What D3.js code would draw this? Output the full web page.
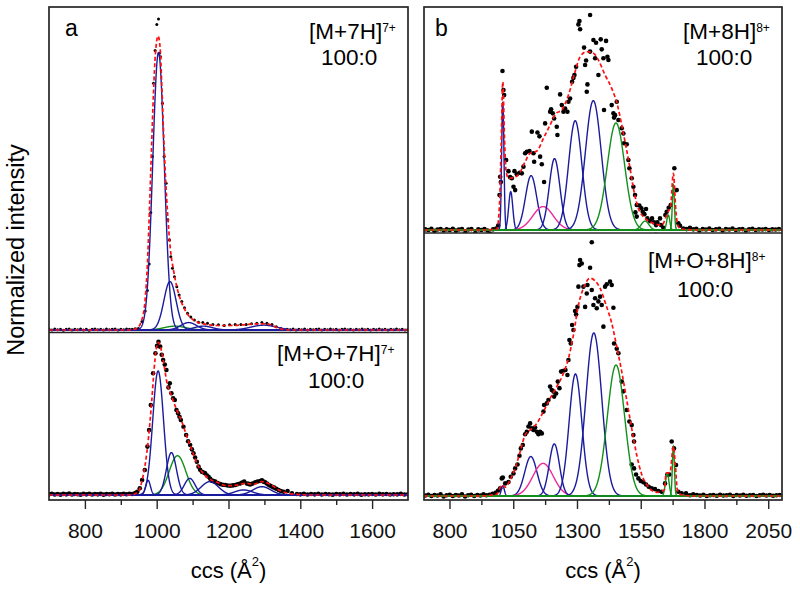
<!DOCTYPE html>
<html>
<head>
<meta charset="utf-8">
<script src="https://d3js.org/d3.v7.min.js"></script>
<style>
  body { margin: 0; background: #fff; }
  svg { display: block; font-family: "Liberation Sans", Arial, sans-serif; }
</style>
</head>
<body>
<svg id="drawing_region"></svg>
<script>
// ---- axis ticks ----
const aTicks = [800, 1000, 1200, 1400, 1600];
const aMinorTicks = [900, 1100, 1300, 1500];
const bTicks = [800, 1050, 1300, 1550, 1800, 2050];
const bMinorTicks = [925, 1175, 1425, 1675, 1925];

// ---- panel a, [M+7H]7+ ----
const aTopDots = [[700,.002],[708,0],[716,.003],[724,.001],[732,.002],[740,-.001],[748,.002],[756,.003],[764,0],[772,.002],[780,.001],[788,.003],[796,0],[804,.002],[812,-.001],[820,.002],[828,.003],[836,.001],[844,.002],[852,0],[860,.003],[868,.001],[876,.002],[884,.003],[892,0],[900,.002],[908,.001],[916,.003],[924,.002],[932,.002],[940,.004],
  [949,.005],[959,.026],[968,.059],[974,.122],[979,.204],[983.5,.364],[988,.537],[991,.764],[995.6,.865],[1000.3,.946],[1005,.963],[1007.7,.857],[1010.5,.846],[1016,.702],[1020.7,.537],[1026.3,.454],[1031,.341],[1035.6,.279],[1039.3,.227],[1044,.191],[1049.5,.165],[1056,.134],[1062.5,.108],[1070,.088],[1077.4,.069],[1085.8,.052],[1095,.040],[1105,.031],[1116.5,.024],[1128.5,.023],[1141.5,.021],[1156.4,.017],[1172,.016],[1188,.014],[1203,.016],[1218.7,.017],[1234.5,.017],[1249.3,.017],[1264,.019],[1279,.021],[1293,.023],[1307,.021],[1321,.017],[1333,.010],[1346,.005],[1363,.002],
  [1372,.001],[1380,.003],[1388,0],[1396,.002],[1404,.001],[1412,.003],[1420,0],[1428,.002],[1436,.001],[1444,.002],[1452,.003],[1460,0],[1468,.002],[1476,.001],[1484,.003],[1492,.001],[1500,.002],[1508,0],[1516,.002],[1524,.003],[1532,.001],[1540,.002],[1548,0],[1556,.002],[1564,.001],[1572,.003],[1580,.001],[1588,.002],[1596,0],[1604,.002],[1612,.001],[1620,.003],[1628,.001],[1636,.002],[1644,0],[1652,.002],[1660,.001],[1668,.003],[1676,.001],[1684,.002],[1692,0],[1700,.002]];
const aTopFit = [[700,0],[926,0],[944.5,.005],[958.4,.031],[967.7,.093],[974.2,.206],[979.8,.372],[985.4,.557],[991,.733],[996.5,.857],[1004,.91],[1009.6,.873],[1014,.764],[1018.9,.619],[1024.4,.475],[1031,.351],[1037.4,.258],[1046.7,.186],[1056,.134],[1070,.083],[1084,.052],[1102.5,.031],[1130,.019],[1167.6,.014],[1204.8,.014],[1242,.016],[1279,.019],[1307,.019],[1326,.012],[1344,.004],[1372,0],[1700,0]];
const aTopCenters = [1051, 1005, 1037, 1089, 1130, 1298];
const aTopHeights = [.012, .859, .15, .023, .012, .015];
const aTopWidths  = [30, 16, 17, 22, 25, 35];
const aTopKinds   = ['green', 'blue', 'blue', 'blue', 'blue', 'blue'];

// ---- panel a, [M+O+7H]7+ ----
const aBotDots = [[700,.004],[708,.008],[716,.003],[724,.006],[732,.002],[740,.007],[748,.004],[756,.009],[764,.003],[772,.006],[780,.005],[788,.002],[796,.007],[804,.004],[812,.008],[820,.003],[828,.006],[836,.004],[844,.007],[852,.002],[860,.006],[868,.005],[876,.008],[884,.003],[892,.006],[900,.004],[908,.007],[916,.005],[924,.008],[932,.006],[940,.012],[946,.02],
  [952.8,.041],[959.4,.092],[966.8,.153],[974.2,.297],[978.9,.399],[983.5,.552],[990,.747],[996.5,.87],[1001,.915],[1005,.94],[1009.6,.91],[1014,.86],[1018,.828],[1022.5,.80],[1027,.767],[1032.8,.66],[1036.5,.685],[1041,.624],[1045.8,.593],[1050.4,.583],[1055,.521],[1059.7,.501],[1063.5,.48],[1067.2,.46],[1074.6,.419],[1082,.368],[1087.5,.33],[1093.2,.307],[1098,.28],[1102.5,.256],[1107,.23],[1111.8,.204],[1116.5,.174],[1121,.155],[1125.8,.143],[1130.5,.138],[1135,.133],[1140,.12],[1144.3,.112],[1149,.10],[1153.6,.088],[1158,.085],[1163,.082],[1170,.074],[1176.9,.067],[1184,.063],[1190.8,.061],[1198,.058],[1204.8,.057],[1212,.059],[1218.7,.061],[1225,.066],[1232.6,.071],[1238,.077],[1243.8,.082],[1251.2,.071],[1256,.068],[1260.5,.065],[1267,.07],[1274.5,.078],[1281,.083],[1288.4,.086],[1293,.09],[1297.7,.082],[1302,.078],[1307,.071],[1311.5,.063],[1316.3,.057],[1322,.05],[1327.4,.045],[1333,.038],[1339.5,.031],[1346,.025],[1353.5,.02],[1364.6,.025],[1376.7,.01],[1390.7,.006],
  [1400,.004],[1410,.007],[1420,.003],[1430,.006],[1440,.004],[1450,.008],[1460,.003],[1470,.006],[1480,.005],[1490,.002],[1500,.006],[1510,.004],[1520,.007],[1530,.003],[1540,.006],[1550,.004],[1560,.007],[1570,.002],[1580,.005],[1590,.004],[1600,.006],[1610,.003],[1620,.007],[1630,.004],[1640,.006],[1650,.003],[1660,.005],[1670,.004],[1680,.007],[1690,.003],[1700,.005]];
const aBotFit = [[700,0],[926,0],[949,.02],[958.5,.082],[967.7,.184],[977,.348],[986,.572],[993,.777],[998.4,.89],[1005,.937],[1011.4,.90],[1019,.818],[1028,.695],[1042,.603],[1056,.521],[1070,.45],[1084,.358],[1098,.276],[1112,.194],[1126,.143],[1144,.102],[1168,.078],[1195.5,.057],[1223,.06],[1247,.072],[1270,.066],[1293,.082],[1316,.066],[1340,.031],[1363,.012],[1391,.004],[1428,0],[1700,0]];
const aBotCenters = [1058, 976, 1004, 1041, 1092, 1148, 1242, 1293];
const aBotHeights = [.241, .09, .761, .26, .102, .082, .031, .051];
const aBotWidths  = [23, 6.5, 15, 14, 15, 24, 25, 25];
const aBotKinds   = ['green', 'blue', 'blue', 'blue', 'blue', 'blue', 'blue', 'blue'];

// ---- panel b, [M+8H]8+ ----
const bTopDots = [[705,.003],[717,0],[729,.005],[741,-.004],[753,.002],[765,.004],[777,-.002],[789,.003],[801,0],[813,.005],[825,-.003],[837,.002],[849,.004],[862,-.012],[874,.002],[886,.004],[901,-.014],[913,.003],[925,0],[937,.004],[949,-.002],[959,-.016],[971,.003],[983,.006],[991,.02],
  [996,.157],[998.7,.239],[1001.3,.215],[1007.8,.713],[1011.7,.628],[1014.4,.605],[1022.2,.314],[1031.3,.264],[1037.9,.237],[1044.4,.232],[1051,.194],[1054.8,.264],[1057.5,.179],[1064,.25],[1074.4,.257],[1083.6,.254],[1090.1,.284],[1096.6,.344],[1103.2,.351],[1113.6,.354],[1122.8,.441],[1129.3,.344],[1132,.306],[1145,.437],[1152.8,.42],[1155.4,.329],[1162,.295],[1171,.215],[1175,.478],[1181.5,.638],[1194.6,.53],[1198.5,.541],[1205,.523],[1210.3,.5],[1220.7,.463],[1223.3,.426],[1233.8,.608],[1240.3,.56],[1246.9,.53],[1253.4,.545],[1262.5,.53],[1266.5,.575],[1273,.59],[1280.8,.665],[1286,.682],[1290,.695],[1296.5,.732],[1305.6,.922],[1309.6,.937],[1312.2,.90],[1327.8,.818],[1331.8,.74],[1335.7,.76],[1338.3,.62],[1341,.653],[1351.4,.964],[1351.4,.80],[1364.4,.852],[1371,.77],[1374.8,.84],[1384,.695],[1393,.855],[1397,.81],[1403.6,.77],[1406,.538],[1414,.848],[1419.3,.777],[1423.2,.762],[1436.3,.56],[1442.8,.523],[1445.4,.504],[1449.3,.515],[1455.8,.575],[1462.4,.493],[1475.4,.456],[1482,.433],[1484.6,.389],[1495,.384],[1501.6,.314],[1505.5,.277],[1514.6,.232],[1521.2,.194],[1527.7,.157],[1529,.079],[1534.2,.112],[1534.2,.06],[1544.7,.11],[1552.5,.097],[1557.7,.082],[1564.3,.071],[1570.8,.094],[1576,.052],[1586.5,.04],[1594.3,.052],[1602,.034],[1608.7,-.022],[1610,.022],[1615.2,.034],[1625.6,.052],[1629.6,.022],[1638.7,.01],[1646.6,.067],[1651.8,.082],[1659.6,.1],[1667.6,.112],[1681.8,.277],[1691,.179],[1697.5,.03],[1704,.019],[1717,.007],[1730,.004],
  [1743,.01],[1756,.003],[1768,.005],[1780,-.002],[1793,.004],[1806,.002],[1819,.006],[1832,0],[1845,.003],[1858,.005],[1871,-.002],[1884,.004],[1897,.002],[1910,.006],[1923,0],[1936,.003],[1949,.004],[1962,-.002],[1975,.003],[1988,.005],[2001,0],[2014,.003],[2027,.002],[2040,.004],[2053,0],[2066,.003],[2079,.002],[2092,.004]];
const bTopFit = [[700,0],[920,0],[985.6,.004],[996,.112],[1002.6,.381],[1009.1,.665],[1015.7,.411],[1022.2,.262],[1031.3,.232],[1051,.235],[1074.4,.254],[1096.6,.306],[1116,.344],[1142.4,.354],[1168.5,.411],[1194.6,.471],[1218,.523],[1240.3,.538],[1266.5,.605],[1292.6,.71],[1312.2,.777],[1338.3,.80],[1364.4,.793],[1384,.762],[1410,.695],[1436.3,.635],[1458.5,.561],[1475.4,.471],[1491,.381],[1508,.277],[1523.8,.172],[1540.8,.097],[1567,.052],[1599.5,.03],[1632,.022],[1654.4,.075],[1667.5,.112],[1678,.254],[1688,.082],[1697.5,.015],[1717,.003],[1782.5,0],[2104,0]];
const bTopCenters = [1009, 1040, 1120, 1167, 1212, 1293, 1364, 1453, 1567, 1658, 1678];
const bTopHeights = [.575, .172, .244, .105, .32, .49, .58, .48, .04, .067, .202];
const bTopWidths  = [4.5, 8, 22, 40, 21, 26, 31, 34, 15, 6, 4];
const bTopKinds   = ['blue', 'blue', 'blue', 'magenta', 'blue', 'blue', 'blue', 'green', 'green', 'green', 'green'];

// ---- panel b, [M+O+8H]8+ ----
const bBotDots = [[705,.002],[717,.005],[729,0],[741,.004],[753,.002],[765,.006],[777,-.002],[789,.003],[801,.005],[813,0],[825,.004],[837,.002],[849,.006],[861,-.002],[873,.003],[885,.005],[897,0],[909,.004],[921,.002],[933,.006],[945,.003],[957,.005],[969,.008],[981,.012],[990,.02],
  [998.7,.029],[1005,.067],[1009.1,.07],[1018.3,.048],[1031.3,.053],[1040.5,.073],[1051,.086],[1057.5,.105],[1066.6,.12],[1074.4,.153],[1079.7,.181],[1087.5,.194],[1096.6,.235],[1103.2,.244],[1109.7,.264],[1116.2,.276],[1122.8,.257],[1129.3,.251],[1135.8,.26],[1142.4,.244],[1148.9,.235],[1155.4,.244],[1162,.238],[1168.5,.321],[1171.1,.346],[1181.5,.352],[1188,.365],[1194.6,.416],[1201.1,.403],[1207.7,.397],[1210.3,.378],[1218.1,.39],[1224.7,.435],[1231.2,.41],[1237.7,.473],[1244.2,.475],[1254.7,.479],[1262.5,.46],[1266.5,.517],[1270.4,.593],[1275.6,.58],[1280.8,.65],[1286,.631],[1292.6,.703],[1296.5,.69],[1301.7,.719],[1305.6,.796],[1309.6,.878],[1312.2,.897],[1318.7,.884],[1325.2,.796],[1331.8,.719],[1338.3,.77],[1341,.802],[1351.4,.868],[1358,.965],[1358,.783],[1364.4,.726],[1371,.752],[1377.5,.714],[1384,.74],[1390.5,.758],[1397,.726],[1403.6,.644],[1410.1,.796],[1416.7,.805],[1429.7,.815],[1436.3,.802],[1442.8,.716],[1445.4,.58],[1455.8,.56],[1462.4,.543],[1475.4,.435],[1482,.398],[1495,.327],[1505.5,.283],[1514.6,.27],[1514.6,.12],[1521.2,.232],[1523.8,.207],[1523.8,.105],[1531.6,.082],[1540.8,.067],[1550,.057],[1560.3,.052],[1570.8,.044],[1581.2,.035],[1593,.029],[1606,.026],[1619.1,.019],[1632.2,.016],[1645.3,.048],[1654.4,.082],[1662.2,.082],[1671.4,.207],[1680.5,.181],[1688.4,.118],[1697.5,.016],[1710.6,.01],[1727.6,.01],[1743,.003],[1756,.006],
  [1770,.004],[1783,.002],[1796,.005],[1809,0],[1822,.003],[1835,.004],[1848,.001],[1861,.005],[1874,.002],[1887,.003],[1900,.005],[1913,0],[1926,.004],[1939,.002],[1952,.005],[1965,.001],[1978,.003],[1991,.004],[2004,0],[2017,.003],[2030,.005],[2043,.002],[2056,.004],[2069,.001],[2082,.003],[2095,.004]];
const bBotFit = [[700,0],[920,0],[985.6,.007],[1005.3,.042],[1018.3,.034],[1037.9,.061],[1057.5,.105],[1077,.168],[1096.6,.232],[1116.2,.251],[1142.4,.276],[1168.5,.321],[1194.6,.371],[1220.7,.416],[1246.9,.466],[1266.5,.523],[1286,.612],[1305.6,.726],[1325.2,.79],[1351.4,.828],[1371,.818],[1390.5,.79],[1414,.726],[1436.3,.657],[1455.8,.568],[1475.4,.473],[1495,.365],[1514.6,.257],[1534.2,.156],[1553.8,.082],[1580,.035],[1612.6,.014],[1642.6,.023],[1649.2,.086],[1664.8,.09],[1678,.188],[1685.8,.118],[1693.6,.023],[1710.6,.004],[1756,0],[2104,0]];
const bBotCenters = [1009, 1119, 1167, 1211, 1294, 1366, 1453, 1654, 1678];
const bBotHeights = [.039, .15, .124, .198, .464, .62, .498, .086, .188];
const bBotWidths  = [6, 24, 40, 20, 25, 31, 34, 7, 4];
const bBotKinds   = ['blue', 'blue', 'magenta', 'blue', 'blue', 'blue', 'green', 'green', 'green'];

const kindColor = { blue: '#1b1b9e', green: '#12901a', magenta: '#ec2a9c' };

const svg = d3.select('#drawing_region')
    .attr('width', 800)
    .attr('height', 589);

let clipCount = 0;

class PeakPlot {

    constructor( config, data ) {
        this.config = config;
        this.data = data;
        this.init();
    }

    init() {
        let self = this;
        const c = self.config;

        self.xscale = c.xscale;
        self.yscale = d3.scaleLinear()
            .domain( [0, 1] )
            .range( [c.baseline, c.baseline - c.unit] );

        const id = 'clip' + (clipCount++);
        svg.append('clipPath').attr('id', id)
            .append('rect')
            .attr('x', c.xscale.range()[0])
            .attr('y', c.top)
            .attr('width', c.xscale.range()[1] - c.xscale.range()[0])
            .attr('height', c.bottom - c.top);

        self.chart = svg.append('g').attr('clip-path', `url(#${id})`);

        self.line = d3.line()
            .x( d => self.xscale(d[0]) )
            .y( d => self.yscale(d[1]) );
    }

    render() {
        let self = this;
        const d = self.data;
        const dom = self.xscale.domain();

        self.chart.selectAll('circle')
            .data( d.dots )
            .enter()
            .append('circle')
            .attr('cx', p => self.xscale(p[0]) )
            .attr('cy', p => self.yscale(p[1]) )
            .attr('r', self.config.dotR)
            .attr('fill', '#000');

        d.centers.forEach( (ctr, i) => {
            const h = d.heights[i], w = d.widths[i];
            const pts = d3.range(dom[0], dom[1] + 0.5, 0.5)
                .map( x => [x, h * Math.exp(-((x - ctr) ** 2) / (2 * w * w))] );
            self.chart.append('path')
                .attr('d', self.line(pts))
                .attr('fill', 'none')
                .attr('stroke', kindColor[d.kinds[i]])
                .attr('stroke-width', 1.4);
        });

        self.chart.append('path')
            .attr('d', self.line.curve(d3.curveMonotoneX)(d.fit))
            .attr('fill', 'none')
            .attr('stroke', '#ff1010')
            .attr('stroke-width', 1.7)
            .attr('stroke-dasharray', '4,2.5');
        self.line.curve(d3.curveLinear);

        const lab = self.config.label;
        const t = svg.append('text')
            .attr('x', lab.x)
            .attr('y', lab.y)
            .attr('font-size', '22.5px')
            .text(lab.ion);
        t.append('tspan')
            .attr('dy', -7)
            .attr('font-size', '12px')
            .text(lab.charge);
        svg.append('text')
            .attr('x', lab.rx)
            .attr('y', lab.y + lab.gap)
            .attr('font-size', '22.5px')
            .text('100:0');
    }
}

function drawPanel( xscale, ticks, minor, top, mid, bottom, letter ) {
    const r = xscale.range();
    const frame = '#262626';

    const major = d3.axisBottom(xscale)
        .tickValues(ticks)
        .tickSize(9)
        .tickPadding(14)
        .tickFormat(d3.format('d'));
    const minorAxis = d3.axisBottom(xscale)
        .tickValues(minor)
        .tickSize(5)
        .tickFormat('');

    const g1 = svg.append('g').attr('transform', `translate(0, ${bottom})`).call(major);
    const g2 = svg.append('g').attr('transform', `translate(0, ${bottom})`).call(minorAxis);
    [g1, g2].forEach( g => {
        g.select('.domain').remove();
        g.selectAll('line').attr('stroke', frame).attr('stroke-width', 1.4);
    });
    g1.selectAll('text')
        .attr('font-size', '21px')
        .attr('font-family', '"Liberation Sans", Arial, sans-serif')
        .attr('fill', '#111');

    svg.append('rect')
        .attr('x', r[0]).attr('y', top)
        .attr('width', r[1] - r[0]).attr('height', bottom - top)
        .attr('fill', 'none')
        .attr('stroke', frame)
        .attr('stroke-width', 1.7);
    svg.append('line')
        .attr('x1', r[0]).attr('x2', r[1])
        .attr('y1', mid).attr('y2', mid)
        .attr('stroke', frame)
        .attr('stroke-width', 1.7);

    svg.append('text')
        .attr('x', r[0] + letter.dx)
        .attr('y', 36)
        .attr('font-size', '23px')
        .text(letter.text);

    const xt = svg.append('text')
        .attr('x', (r[0] + r[1]) / 2)
        .attr('y', 578)
        .attr('text-anchor', 'middle')
        .attr('font-size', '22px')
        .text('ccs (Å');
    xt.append('tspan').attr('dy', -12).attr('font-size', '13px').text('2');
    xt.append('tspan').attr('dy', 12).text(')');
}

const xA = d3.scaleLinear().domain([700, 1700]).range([49, 408]);
const xB = d3.scaleLinear().domain([700, 2104]).range([424, 782]);

new PeakPlot(
    { xscale: xA, top: 7, bottom: 332, baseline: 330, unit: 323, dotR: 1.5,
      label: { x: 309, y: 39, ion: '[M+7H]', charge: '7+', rx: 321, gap: 26 } },
    { dots: aTopDots, fit: aTopFit, centers: aTopCenters, heights: aTopHeights, widths: aTopWidths, kinds: aTopKinds }
).render();

new PeakPlot(
    { xscale: xA, top: 333, bottom: 500, baseline: 495, unit: 163, dotR: 2.3,
      label: { x: 277, y: 361, ion: '[M+O+7H]', charge: '7+', rx: 308, gap: 27 } },
    { dots: aBotDots, fit: aBotFit, centers: aBotCenters, heights: aBotHeights, widths: aBotWidths, kinds: aBotKinds }
).render();

new PeakPlot(
    { xscale: xB, top: 7, bottom: 233, baseline: 230, unit: 223, dotR: 2.3,
      label: { x: 683, y: 39, ion: '[M+8H]', charge: '8+', rx: 696, gap: 26 } },
    { dots: bTopDots, fit: bTopFit, centers: bTopCenters, heights: bTopHeights, widths: bTopWidths, kinds: bTopKinds }
).render();

new PeakPlot(
    { xscale: xB, top: 233, bottom: 500, baseline: 496, unit: 263, dotR: 2.3,
      label: { x: 648, y: 268, ion: '[M+O+8H]', charge: '8+', rx: 677, gap: 29 } },
    { dots: bBotDots, fit: bBotFit, centers: bBotCenters, heights: bBotHeights, widths: bBotWidths, kinds: bBotKinds }
).render();

drawPanel(xA, aTicks, aMinorTicks, 7, 332.5, 500, { text: 'a', dx: 16 });
drawPanel(xB, bTicks, bMinorTicks, 7, 233, 500, { text: 'b', dx: 11 });

svg.append('text')
    .attr('transform', 'translate(24, 250) rotate(-90)')
    .attr('text-anchor', 'middle')
    .attr('font-size', '23.5px')
    .text('Normalized intensity');
</script>
</body>
</html>
